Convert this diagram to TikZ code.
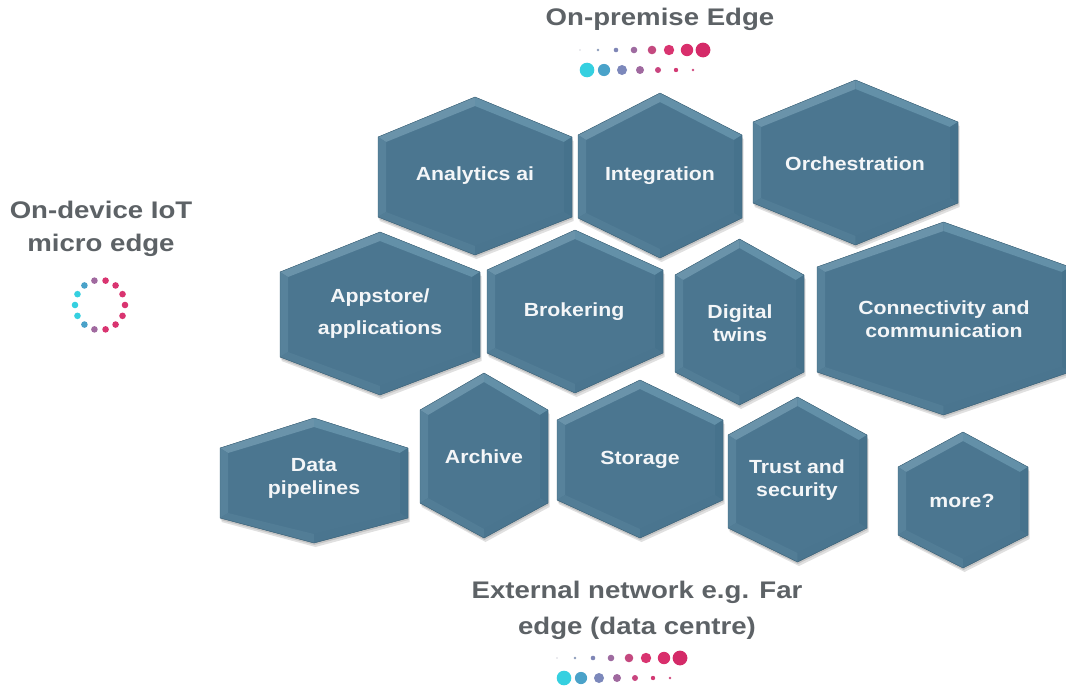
\documentclass[tikz,border=0pt]{standalone}
\usepackage{fontspec}
\setmainfont{Liberation Sans}
\newfontfamily\hexfont{Liberation Sans}[FakeStretch=1.12]
\newfontfamily\titlefont{Liberation Sans}[FakeStretch=1.15]
\definecolor{hexmain}{HTML}{4B7690}
\definecolor{hextopc}{HTML}{6A93AA}
\definecolor{hextopd}{HTML}{6390A8}
\definecolor{hexleftc}{HTML}{57829B}
\definecolor{hexrightc}{HTML}{46728C}
\definecolor{hexbotc}{HTML}{527D96}
\definecolor{hexbotd}{HTML}{4A758F}
\definecolor{hexline}{HTML}{3E6378}
\definecolor{titlegray}{HTML}{5D6266}
\definecolor{hextxt}{HTML}{F4F6F8}
\definecolor{dA}{HTML}{D8D8E0}
\definecolor{dB}{HTML}{8C9CBA}
\definecolor{dC}{HTML}{7F86B6}
\definecolor{dD}{HTML}{9E6BA0}
\definecolor{dE}{HTML}{C4497F}
\definecolor{dF}{HTML}{D93470}
\definecolor{dG}{HTML}{D92F6C}
\definecolor{dH}{HTML}{D42A68}
\definecolor{cyanD}{HTML}{35D0E0}
\definecolor{blueD}{HTML}{4AA2C9}
\definecolor{lavD}{HTML}{7C88BB}
\definecolor{purD}{HTML}{A0699F}
\definecolor{pinkD}{HTML}{C9457F}
\definecolor{pink2D}{HTML}{D33A74}
\definecolor{pink3D}{HTML}{D04A80}
\tikzset{
  hextext/.style={text=hextxt, font=\hexfont\bfseries\fontsize{19}{23}\selectfont, align=center, inner sep=0pt},
  titletext/.style={text=titlegray, font=\titlefont\bfseries\fontsize{24}{33}\selectfont, align=center, inner sep=0pt},
  hexshadow/.style={fill=black, opacity=0.12},
}
\newcommand\hexa[7]{%
  \pgfmathsetmacro\hc{(#2+#3)/2}%
  \begin{scope}[shift={(1.5,4)}]
    \fill[hexshadow] (#2,#5)--(\hc,#4)--(#3,#5)--(#3,#6)--(\hc,#7)--(#2,#6)--cycle;
  \end{scope}
  \begin{scope}[shift={(0.5,2)}]
    \fill[hexshadow] (#2,#5)--(\hc,#4)--(#3,#5)--(#3,#6)--(\hc,#7)--(#2,#6)--cycle;
  \end{scope}
  \coordinate (#1o1) at (#2,#5);
  \coordinate (#1o2) at (\hc,#4);
  \coordinate (#1o3) at (#3,#5);
  \coordinate (#1o4) at (#3,#6);
  \coordinate (#1o5) at (\hc,#7);
  \coordinate (#1o6) at (#2,#6);
  \coordinate (#1i1) at (#2+8,#5+5);
  \coordinate (#1i2) at (\hc,#4+9);
  \coordinate (#1i3) at (#3-8,#5+5);
  \coordinate (#1i4) at (#3-8,#6-5);
  \coordinate (#1i5) at (\hc,#7-9);
  \coordinate (#1i6) at (#2+8,#6-5);
  \fill[hexmain] (#1o1)--(#1o2)--(#1o3)--(#1o4)--(#1o5)--(#1o6)--cycle;
  \fill[hextopc] (#1o1)--(#1o2)--(#1i2)--(#1i1)--cycle;
  \fill[hextopd] (#1o2)--(#1o3)--(#1i3)--(#1i2)--cycle;
  \fill[hexleftc] (#1o1)--(#1i1)--(#1i6)--(#1o6)--cycle;
  \fill[hexrightc] (#1o3)--(#1o4)--(#1i4)--(#1i3)--cycle;
  \fill[hexbotc] (#1o6)--(#1i6)--(#1i5)--(#1o5)--cycle;
  \fill[hexbotd] (#1o5)--(#1i5)--(#1i4)--(#1o4)--cycle;
  \draw[hexline, line width=0.4pt] (#1o1)--(#1o2)--(#1o3)--(#1o4)--(#1o5)--(#1o6)--cycle;
}
\newcommand\dotgroup[3]{% #1 name, #2 x0, #3 y0
  \fill[dA] (#2,#3) circle (0.8);
  \fill[dB] (#2+18,#3) circle (1.3);
  \fill[dC] (#2+36,#3) circle (2.3);
  \fill[dD] (#2+54,#3) circle (3.3);
  \fill[dE] (#2+72,#3) circle (4.3);
  \fill[dF] (#2+89,#3) circle (5.2);
  \fill[dG] (#2+107,#3) circle (6.2);
  \fill[dH] (#2+123,#3) circle (7.4);
  \fill[cyanD] (#2+7,#3+20) circle (7.3);
  \fill[blueD] (#2+24,#3+20) circle (6.1);
  \fill[lavD] (#2+42,#3+20) circle (5);
  \fill[purD] (#2+60,#3+20) circle (4);
  \fill[pinkD] (#2+78,#3+20) circle (3);
  \fill[pink2D] (#2+96,#3+20) circle (2.2);
  \fill[pink3D] (#2+113,#3+20) circle (1.3);
  \coordinate (#1) at (#2,#3);
}
\begin{document}
\begin{tikzpicture}[x=1pt,y=-1pt]
\useasboundingbox (0,0) rectangle (1066,688);
\fill[white] (0,0) rectangle (1066,688);
\clip (0,0) rectangle (1066,688);

% row 1
\hexa{ana}{378}{572}{97}{137}{217}{255}
\hexa{int}{578}{742}{93}{135}{218}{258}
\hexa{orc}{753}{958}{80}{122}{203}{245}
% row 2
\hexa{app}{280}{480}{232}{272}{357}{395}
\hexa{bro}{487}{663}{230}{270}{353}{393}
\hexa{dig}{675}{804}{239}{275}{372}{405}
\hexa{con}{817}{1070}{222}{267}{372}{415}
% row 3
\hexa{dpi}{220}{408}{418}{448}{518}{543}
\hexa{arc}{420}{548}{373}{410}{503}{538}
\hexa{sto}{557}{723}{380}{420}{500}{538}
\hexa{tru}{728}{867}{397}{435}{528}{562}
\hexa{mor}{898}{1028}{432}{467}{535}{568}

\node[hextext] (tana) at (475,176) {Analytics ai};
\node[hextext] (tint) at (660,176) {Integration};
\node[hextext] (torc) at (855,164) {Orchestration};
\node[hextext, font=\hexfont\bfseries\fontsize{19}{32}\selectfont] (tapp) at (380,314) {Appstore/\\applications};
\node[hextext] (tbro) at (574,312) {Brokering};
\node[hextext] (tdig) at (740,323) {Digital\\twins};
\node[hextext] (tcon) at (944,319) {Connectivity and\\communication};
\node[hextext] (tdpi) at (314,478) {Data\\pipelines};
\node[hextext] (tarc) at (484,457) {Archive};
\node[hextext] (tsto) at (640,460) {Storage};
\node[hextext] (ttru) at (797,480) {Trust and\\security};
\node[hextext] (tmor) at (962,501) {more?};

% titles
\node[titletext] (tprem) at (660,19) {On-premise Edge};
\node[titletext] (tdev) at (101,229) {On-device IoT\\micro edge};
\node[titletext, font=\titlefont\bfseries\fontsize{24}{36}\selectfont] (text) at (637,610) {External network e.g. Far\\edge (data centre)};

% dot groups
\dotgroup{dotsprem}{580}{50}
\dotgroup{dotsext}{557}{658}

% ring of dots
\foreach \a/\c in {180/cyanD, 154.29/cyanD, 205.71/cyanD, 128.57/blueD, 231.43/blueD,
  102.86/purD, 257.14/purD, 77.14/dF, 282.86/dF, 51.43/dF, 308.57/dF, 25.71/dF, 334.29/dF, 0/dF}{
  \fill[\c] (100,305) ++(\a:25 and -25) circle (3.3);
}
\coordinate (ring) at (100,305);
\end{tikzpicture}
\end{document}
